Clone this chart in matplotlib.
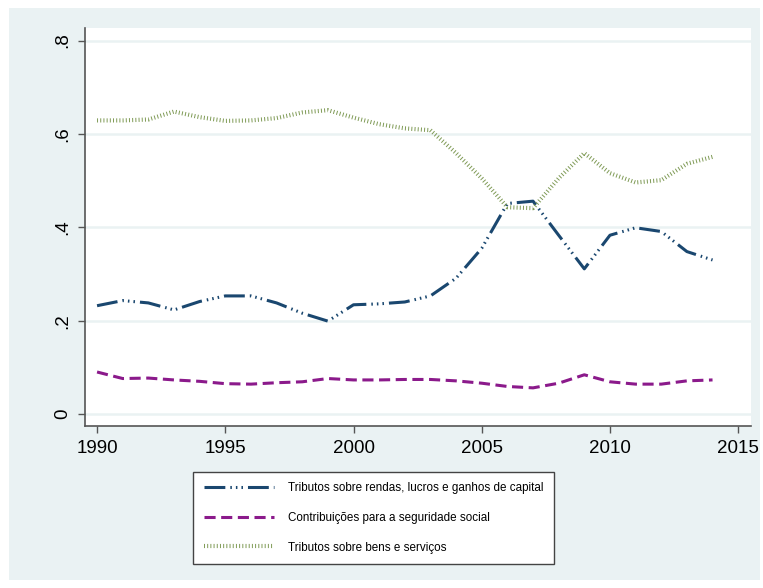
import matplotlib
matplotlib.use("Agg")
import matplotlib.pyplot as plt
from matplotlib.patches import Rectangle

plt.rcParams['font.family'] = ['Liberation Sans', 'DejaVu Sans']
plt.rcParams['lines.scale_dashes'] = False

years = list(range(1990, 2015))

rendas = [0.232, 0.243, 0.238, 0.223, 0.241, 0.253, 0.253, 0.238, 0.216, 0.199,
          0.234, 0.236, 0.240, 0.253, 0.291, 0.355, 0.451, 0.456, 0.383, 0.311,
          0.383, 0.399, 0.391, 0.348, 0.330]
seguridade = [0.090, 0.076, 0.077, 0.073, 0.070, 0.065, 0.064, 0.067, 0.069, 0.076,
              0.073, 0.073, 0.074, 0.074, 0.071, 0.066, 0.059, 0.056, 0.066, 0.084,
              0.069, 0.064, 0.064, 0.071, 0.073]
bens = [0.629, 0.629, 0.631, 0.648, 0.636, 0.628, 0.629, 0.634, 0.646, 0.651,
        0.635, 0.621, 0.612, 0.608, 0.559, 0.505, 0.443, 0.441, 0.505, 0.559,
        0.516, 0.496, 0.501, 0.536, 0.551]

labels = ['Tributos sobre rendas, lucros e ganhos de capital',
          'Contribuições para a seguridade social',
          'Tributos sobre bens e serviços']

xticks = [1990, 1995, 2000, 2005, 2010, 2015]
yticks = [0, 0.2, 0.4, 0.6, 0.8]
ytick_labels = ['0', '.2', '.4', '.6', '.8']

W, H = 763, 588
fig = plt.figure(figsize=(W / 100, H / 100), dpi=100, facecolor='white')

# light outer panel, stata style
fig.patches.append(Rectangle((9 / W, 8 / H), 751 / W, 572 / H, transform=fig.transFigure,
                             facecolor='#eaf2f3', edgecolor='none', zorder=-10))

ax = fig.add_axes([85 / W, 1 - 426 / H, 666 / W, 398 / H])
ax.set_facecolor('white')

l1, = ax.plot(years, rendas, color='#1a476f', lw=2.2, solid_capstyle='butt',
              dash_capstyle='butt', dashes=[15, 3.6, 1.1, 2.9, 1.1, 2.9, 1.1, 3.6])
l2, = ax.plot(years, seguridade, color='#8b1a8b', lw=2.2, dash_capstyle='butt',
              dashes=[8, 4])
l3, = ax.plot(years, bens, color='#7f9a55', lw=3.0, dash_capstyle='butt',
              dashes=[0.7, 1.6])

ax.set_xlim(1989.53, 2015.5)
ax.set_ylim(-0.0257, 0.827)
ax.set_xticks(xticks)
ax.set_yticks(yticks)
ax.set_yticklabels(ytick_labels, rotation=90, va='center')
ax.grid(axis='y', color='#eaf2f3', lw=1.8)
ax.set_axisbelow(True)

for s in ['top', 'right']:
    ax.spines[s].set_visible(False)
for s in ['left', 'bottom']:
    ax.spines[s].set_color('#555555')
    ax.spines[s].set_linewidth(1.2)
ax.tick_params(direction='out', length=5, width=1, color='#555555',
               labelsize=13.5, pad=5)

leg = fig.legend([l1, l2, l3], labels, loc='upper left',
                 bbox_to_anchor=(193 / W, 1 - 472 / H), borderaxespad=0,
                 fontsize=8.4, handlelength=6.0, handletextpad=1.25,
                 labelspacing=1.5, borderpad=0.9, fancybox=False,
                 edgecolor='#444444', framealpha=1)
leg.get_frame().set_linewidth(1.0)

fig.savefig('out.png', dpi=100, facecolor='white')
